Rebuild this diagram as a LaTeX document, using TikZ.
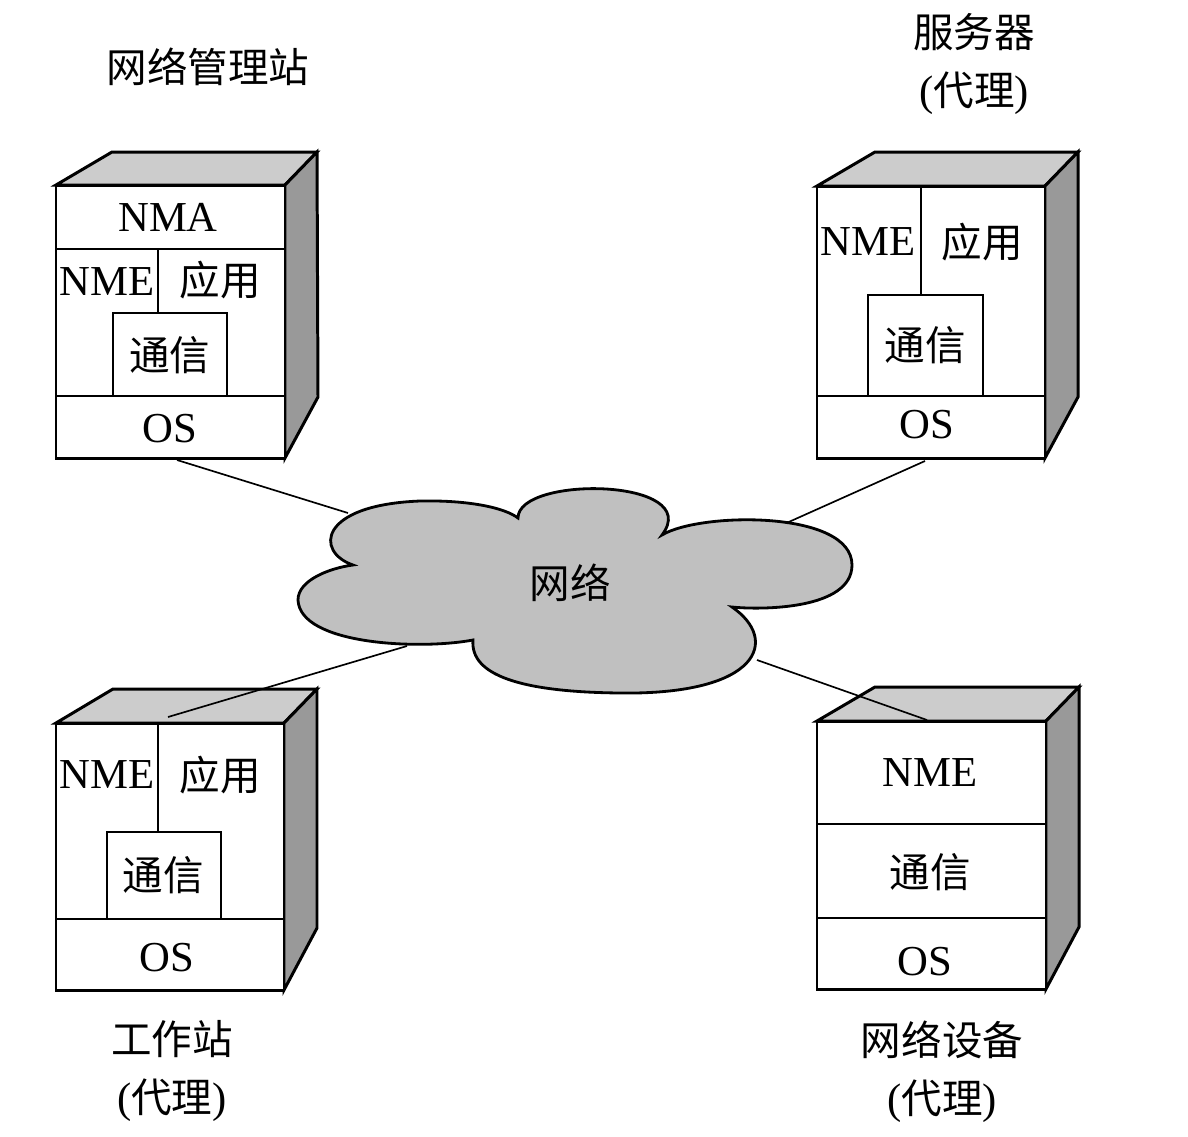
\documentclass[tikz,border=0pt]{standalone}
\usepackage{fontspec}
\setmainfont{Liberation Serif}
\newfontfamily\cjk[Scale=0.95]{Noto Sans CJK SC}
\newcommand\zh[1]{{\cjk #1}}
\definecolor{topgray}{RGB}{204,204,204}
\definecolor{sidegray}{RGB}{153,153,153}
\definecolor{cloudgray}{RGB}{192,192,192}
\begin{document}
\begin{tikzpicture}[x=0.02cm,y=-0.02cm,
  outer/.style={draw=black,line width=1.7pt,line join=miter},
  inner/.style={draw=black,line width=0.9pt},
  conn/.style={draw=black,line width=0.95pt},
  lbl/.style={inner sep=0pt,font=\fontsize{24.3}{29}\selectfont},
  captxt/.style={inner sep=0pt,align=center,font=\fontsize{24.3}{33}\selectfont}]
\useasboundingbox (0,0) rectangle (1188,1137);

% ---------- connectors drawn first (behind cloud / boxes) ----------
\coordinate (b1bot) at (177,460);
\coordinate (n1) at (348,513);
\coordinate (b2bot) at (925,461);
\coordinate (n2) at (782,525);
\draw[conn] (b1bot) -- (n1);
\draw[conn] (b2bot) -- (n2);

% ---------- cloud ----------
\draw[fill=cloudgray,line width=1.6pt]
  (353,565) .. controls (315,552) and (318,505) .. (420,501)
  .. controls (470,500) and (505,508) .. (518,518)
  .. controls (518,475) and (705,478) .. (662,535)
  .. controls (700,512) and (852,510) .. (852,565)
  .. controls (852,610) and (760,610) .. (732,607)
  .. controls (780,640) and (760,695) .. (620,693)
  .. controls (520,692) and (470,675) .. (473,640)
  .. controls (420,650) and (300,645) .. (298,600)
  .. controls (298,580) and (330,568) .. (353,565) -- cycle;
\node[lbl] (net) at (570,583) {\zh{网络}};

% ---------- box 1 : network management station ----------
\filldraw[outer,fill=topgray] (56,185) -- (112,152) -- (317,152) -- (285,185) -- cycle;
\filldraw[outer,fill=sidegray] (285,185) -- (317,152) -- (318,397) -- (285,458) -- cycle;
\filldraw[outer,fill=white] (56,185) rectangle (285,458);
\draw[inner] (56,249) -- (285,249);
\draw[inner] (56,396) -- (285,396);
\draw[inner] (158,249) -- (158,313);
\draw[inner] (113,396) -- (113,313) -- (227,313) -- (227,396);
\node[lbl] (b1nma) at (168,217) {NMA};
\node[lbl] (b1nme) at (107,282) {NME};
\node[lbl] (b1app) at (220,280) {\zh{应用}};
\node[lbl] (b1com) at (170,355) {\zh{通信}};
\node[lbl] (b1os) at (170,429) {OS};
\node[lbl] (t1) at (208,67) {\zh{网络管理站}};

% ---------- box 2 : server ----------
\filldraw[outer,fill=topgray] (817,186) -- (875,152) -- (1078,152) -- (1045,186) -- cycle;
\filldraw[outer,fill=sidegray] (1045,186) -- (1078,152) -- (1078,397) -- (1045,458) -- cycle;
\filldraw[outer,fill=white] (817,186) rectangle (1045,458);
\draw[inner] (817,396) -- (1045,396);
\draw[inner] (921,186) -- (921,295);
\draw[inner] (868,396) -- (868,295) -- (983,295) -- (983,396);
\node[lbl] (b2nme) at (868,242) {NME};
\node[lbl] (b2app) at (982,242) {\zh{应用}};
\node[lbl] (b2com) at (925,345) {\zh{通信}};
\node[lbl] (b2os) at (927,425) {OS};
\node[captxt] (t2) at (974,64) {\zh{服务器}\\(\zh{代理})};

% ---------- box 3 : workstation ----------
\filldraw[outer,fill=topgray] (56,723) -- (113,689) -- (317,689) -- (284,723) -- cycle;
\filldraw[outer,fill=sidegray] (284,723) -- (317,689) -- (317,928) -- (284,990) -- cycle;
\filldraw[outer,fill=white] (56,723) rectangle (284,990);
\draw[inner] (56,919) -- (284,919);
\draw[inner] (158,723) -- (158,832);
\draw[inner] (107,919) -- (107,832) -- (221,832) -- (221,919);
\node[lbl] (b3nme) at (107,775) {NME};
\node[lbl] (b3app) at (220,775) {\zh{应用}};
\node[lbl] (b3com) at (163,875) {\zh{通信}};
\node[lbl] (b3os) at (167,958) {OS};
\node[captxt] (t3) at (172,1071) {\zh{工作站}\\(\zh{代理})};

% ---------- box 4 : network device ----------
\filldraw[outer,fill=topgray] (817,721) -- (875,687) -- (1079,687) -- (1046,721) -- cycle;
\filldraw[outer,fill=sidegray] (1046,721) -- (1079,687) -- (1079,927) -- (1046,989) -- cycle;
\filldraw[outer,fill=white] (817,721) rectangle (1046,989);
\draw[inner] (817,824) -- (1046,824);
\draw[inner] (817,918) -- (1046,918);
\node[lbl] (b4nme) at (930,773) {NME};
\node[lbl] (b4com) at (930,872) {\zh{通信}};
\node[lbl] (b4os) at (925,962) {OS};
\node[captxt] (t4) at (942,1072) {\zh{网络设备}\\(\zh{代理})};

% ---------- connectors drawn over the top faces ----------
\coordinate (b3top) at (168,717);
\coordinate (n3) at (407,646);
\coordinate (b4top) at (927,720);
\coordinate (n4) at (757,660);
\draw[conn] (n3) -- (b3top);
\draw[conn] (n4) -- (b4top);
\end{tikzpicture}
\end{document}
